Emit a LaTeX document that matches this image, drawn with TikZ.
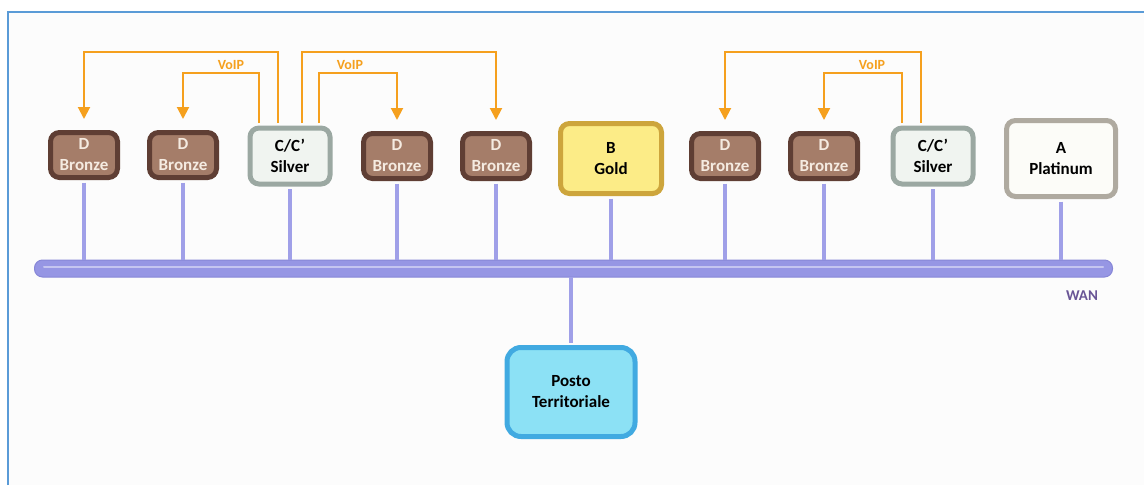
\documentclass[tikz,border=0pt]{standalone}
\usepackage{fontspec}
\setmainfont{Carlito}
\usepackage{xcolor}
\usetikzlibrary{positioning, arrows.meta}
\definecolor{frameblue}{RGB}{90, 155, 215}
\definecolor{voiporange}{RGB}{245, 160, 30}
\definecolor{buslav}{RGB}{150, 150, 228}
\definecolor{busedge}{RGB}{135, 135, 215}
\definecolor{droplav}{RGB}{160, 160, 232}
\definecolor{wantext}{RGB}{105, 85, 150}
\definecolor{bzdark}{RGB}{95, 62, 52}
\definecolor{bzlight}{RGB}{165, 125, 105}
\definecolor{bztext}{RGB}{245, 235, 225}
\definecolor{svdark}{RGB}{155, 168, 162}
\definecolor{svlight}{RGB}{240, 244, 240}
\definecolor{gddark}{RGB}{205, 165, 60}
\definecolor{gdlight}{RGB}{252, 236, 135}
\definecolor{ptdark}{RGB}{175, 170, 160}
\definecolor{ptlight}{RGB}{252, 252, 248}
\definecolor{pstdark}{RGB}{65, 170, 225}
\definecolor{pstlight}{RGB}{140, 225, 245}
\tikzset{
    tiernode/.style={rectangle, rounded corners=9pt, line width=5pt, align=center, inner sep=2pt, font=\fontsize{17}{21}\selectfont\bfseries},
    bronzenode/.style={tiernode, draw=bzdark, fill=bzlight, text=bztext, minimum width=67pt, minimum height=45pt},
    silvernode/.style={tiernode, draw=svdark, fill=svlight, text=black, minimum width=80pt, minimum height=56pt},
    goldnode/.style={tiernode, draw=gddark, fill=gdlight, text=black, minimum width=101pt, minimum height=70pt},
    platnode/.style={tiernode, draw=ptdark, fill=ptlight, text=black, minimum width=109pt, minimum height=76pt},
    postonode/.style={tiernode, draw=pstdark, fill=pstlight, text=black, minimum width=128pt, minimum height=89pt, rounded corners=14pt},
    bus/.style={rectangle, rounded corners=8pt, draw=busedge, line width=1pt, fill=buslav, minimum width=1078pt, minimum height=17pt, inner sep=0pt},
    drop/.style={droplav, line width=3.5pt},
    voip/.style={voiporange, line width=2pt, -{Triangle[width=12pt, length=12pt]}},
    voiplabel/.style={text=voiporange, font=\fontsize{14}{16}\selectfont\bfseries},
    wanlabel/.style={text=wantext, font=\fontsize{15}{17}\selectfont\bfseries}
}
\begin{document}
\begin{tikzpicture}[x=1pt, y=-1pt]
    \useasboundingbox (0,0) rectangle (1144,485);
    \fill[white!99!black] (8,12) rectangle (1144,485);
    \draw[frameblue, line width=2.5pt] (8,485) -- (8,12) -- (1144,12);

    \node[bus] (wan) at (573.5,268.5) {};
    \draw[white, opacity=0.45, line width=2pt, line cap=round] ([xshift=10pt, yshift=2pt]wan.west) -- ([xshift=-10pt, yshift=2pt]wan.east);
    \node[wanlabel] (wanlbl) at (1082,296) {WAN};

    \node[bronzenode] (d1) at (84,155) {D\\Bronze};
    \node[bronzenode] (d2) at (183,155) {D\\Bronze};
    \node[silvernode] (c1) at (290,156) {C/C'\\Silver};
    \node[bronzenode] (d3) at (397,156) {D\\Bronze};
    \node[bronzenode] (d4) at (496,156) {D\\Bronze};
    \node[goldnode] (b) at (611,158.5) {B\\Gold};
    \node[bronzenode] (d5) at (725,156) {D\\Bronze};
    \node[bronzenode] (d6) at (824,156) {D\\Bronze};
    \node[silvernode] (c2) at (933,156) {C/C'\\Silver};
    \node[platnode] (a) at (1061,158.5) {A\\Platinum};
    \node[postonode] (posto) at (571,392) {Posto\\Territoriale};

    \foreach \n in {d1,d2,c1,d3,d4,b,d5,d6,c2,a}
        \draw[drop] ([yshift=-2.5pt]\n.south) -- ([yshift=-0.5pt]\n.south |- wan.north);
    \draw[drop] ([yshift=0.5pt]wan.south -| posto.north) -- ([yshift=2.5pt]posto.north);

    \draw[voip] ([xshift=-12pt, yshift=2.5pt]c1.north) -- ++(0,71pt) -| ([yshift=11pt]d1.north);
    \draw[voip] ([xshift=-31pt, yshift=2.5pt]c1.north) -- ++(0,50pt) -| ([yshift=11pt]d2.north);
    \draw[voip] ([xshift=12pt, yshift=2.5pt]c1.north) -- ++(0,71pt) -| ([yshift=11pt]d4.north);
    \draw[voip] ([xshift=29pt, yshift=2.5pt]c1.north) -- ++(0,50pt) -| ([yshift=11pt]d3.north);
    \draw[voip] ([xshift=-12pt, yshift=2.5pt]c2.north) -- ++(0,71pt) -| ([yshift=11pt]d5.north);
    \draw[voip] ([xshift=-31pt, yshift=2.5pt]c2.north) -- ++(0,50pt) -| ([yshift=11pt]d6.north);

    \node[voiplabel] (voip1) at (231,65) {VoIP};
    \node[voiplabel] (voip2) at (350,65) {VoIP};
    \node[voiplabel] (voip3) at (872,65) {VoIP};
\end{tikzpicture}
\end{document}
